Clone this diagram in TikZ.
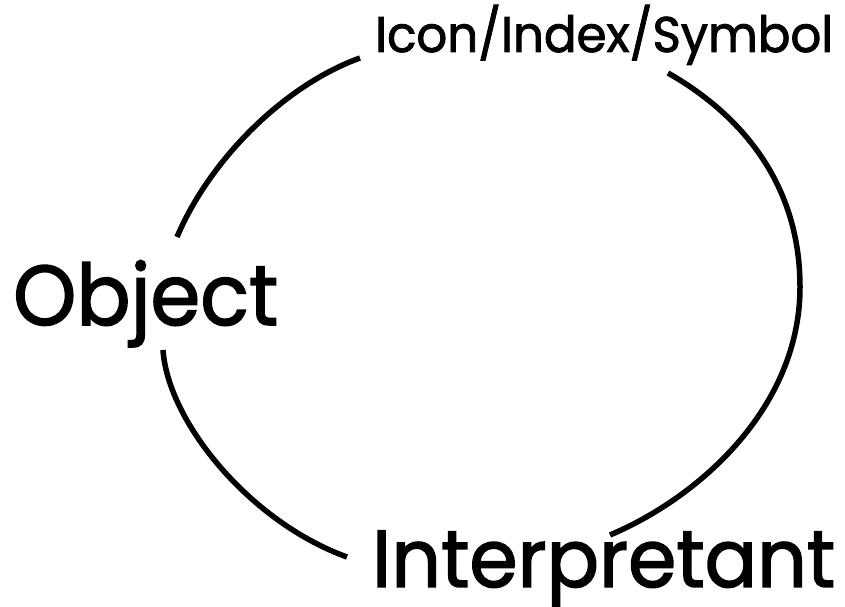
\documentclass[tikz,border=0pt]{standalone}
\usepackage{fontspec}
\setmainfont{Poppins}[FakeBold=1.8]
\begin{document}
\begin{tikzpicture}[x=1pt,y=1pt,
  arcline/.style={line width=5.5pt, line cap=butt, black},
  bigtext/.style={inner sep=0pt, font=\fontsize{85}{90}\selectfont},
  smalltext/.style={inner sep=0pt, font=\fontsize{50}{55}\selectfont}]
\useasboundingbox (0,0) rectangle (845,607);
\node[bigtext, anchor=base west] (obj) at (13,282) {\resizebox{265pt}{\height}{Object}};
\node[bigtext, anchor=base west] (interp) at (372,20) {\resizebox{463pt}{0.95\height}{Interpretant}};
\node[smalltext, anchor=base west] (sign) at (375,555) {\resizebox{458pt}{\height}{Icon/Index/Symbol}};
% arc endpoints
\coordinate (a1) at (360,549);
\coordinate (a2) at (177,370);
\coordinate (b1) at (668,534);
\coordinate (bm) at (800,320);
\coordinate (b2) at (610,72);
\coordinate (c1) at (163,257);
\coordinate (c2) at (347,50);
\draw[arcline] (a1) .. controls (285,522) and (210,448) .. (a2);
\draw[arcline] (b1) .. controls (745,490) and (800,420) .. (bm)
                    .. controls (800,200) and (700,110) .. (b2);
\draw[arcline] (c1) .. controls (168,185) and (250,85) .. (c2);
\end{tikzpicture}
\end{document}
